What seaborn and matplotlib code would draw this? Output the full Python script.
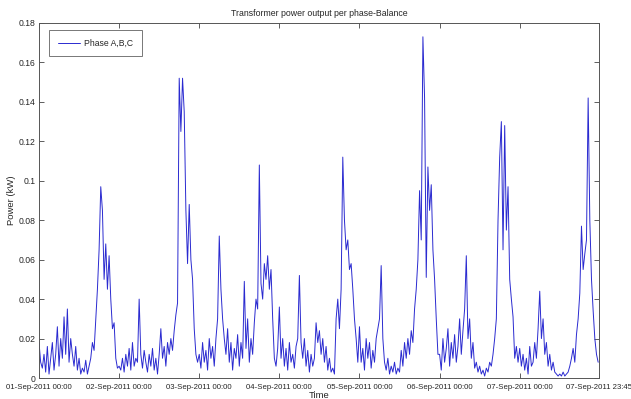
import numpy as np
import pandas as pd
import matplotlib
matplotlib.use("Agg")
import matplotlib.pyplot as plt
import matplotlib.dates as mdates
import seaborn as sns

# 30-minute readings, one list per day (kW)
day1 = [0.018, 0.008, 0.005, 0.012, 0.003, 0.016, 0.002, 0.010, 0.018, 0.004,
        0.012, 0.026, 0.006, 0.020, 0.010, 0.031, 0.012, 0.035, 0.008, 0.020,
        0.012, 0.006, 0.016, 0.004, 0.010, 0.002, 0.005, 0.003, 0.009, 0.002,
        0.006, 0.010, 0.018, 0.014, 0.030, 0.045, 0.065, 0.097, 0.085, 0.050,
        0.068, 0.045, 0.062, 0.040, 0.025, 0.028, 0.010, 0.005]
day2 = [0.006, 0.004, 0.010, 0.003, 0.012, 0.006, 0.015, 0.004, 0.018, 0.006,
        0.010, 0.008, 0.040, 0.012, 0.005, 0.014, 0.008, 0.003, 0.012, 0.006,
        0.015, 0.004, 0.010, 0.002, 0.012, 0.025, 0.010, 0.016, 0.006, 0.018,
        0.012, 0.020, 0.014, 0.024, 0.032, 0.038, 0.152, 0.125, 0.152, 0.135,
        0.085, 0.058, 0.088, 0.060, 0.050, 0.025, 0.012, 0.008]
day3 = [0.012, 0.005, 0.018, 0.008, 0.014, 0.004, 0.020, 0.010, 0.016, 0.006,
        0.020, 0.030, 0.072, 0.045, 0.030, 0.020, 0.012, 0.025, 0.008, 0.018,
        0.004, 0.015, 0.010, 0.022, 0.006, 0.018, 0.010, 0.049, 0.015, 0.030,
        0.008, 0.020, 0.012, 0.028, 0.040, 0.035, 0.108, 0.048, 0.040, 0.058,
        0.050, 0.062, 0.045, 0.055, 0.030, 0.010, 0.006, 0.015]
day4 = [0.036, 0.010, 0.020, 0.006, 0.015, 0.004, 0.018, 0.008, 0.012, 0.005,
        0.016, 0.020, 0.052, 0.018, 0.010, 0.020, 0.006, 0.014, 0.003, 0.012,
        0.006, 0.010, 0.028, 0.018, 0.024, 0.012, 0.020, 0.008, 0.016, 0.004,
        0.010, 0.003, 0.005, 0.002, 0.030, 0.040, 0.025, 0.045, 0.112, 0.080,
        0.065, 0.070, 0.055, 0.058, 0.045, 0.030, 0.020, 0.008]
day5 = [0.026, 0.008, 0.015, 0.004, 0.020, 0.010, 0.018, 0.005, 0.014, 0.008,
        0.020, 0.025, 0.030, 0.057, 0.020, 0.008, 0.004, 0.010, 0.002, 0.006,
        0.003, 0.008, 0.002, 0.005, 0.003, 0.014, 0.006, 0.018, 0.010, 0.020,
        0.012, 0.024, 0.018, 0.035, 0.045, 0.060, 0.095, 0.070, 0.173, 0.142,
        0.051, 0.107, 0.085, 0.098, 0.065, 0.050, 0.030, 0.012]
day6 = [0.012, 0.004, 0.020, 0.008, 0.015, 0.025, 0.006, 0.018, 0.010, 0.022,
        0.008, 0.016, 0.030, 0.012, 0.024, 0.035, 0.062, 0.020, 0.030, 0.010,
        0.018, 0.005, 0.008, 0.003, 0.006, 0.002, 0.004, 0.001, 0.005, 0.003,
        0.008, 0.006, 0.012, 0.020, 0.030, 0.080, 0.112, 0.130, 0.065, 0.128,
        0.075, 0.097, 0.050, 0.040, 0.031, 0.010, 0.016, 0.008]
day7 = [0.015, 0.006, 0.012, 0.004, 0.010, 0.002, 0.016, 0.006, 0.008, 0.018,
        0.010, 0.025, 0.044, 0.020, 0.030, 0.012, 0.018, 0.006, 0.012, 0.004,
        0.008, 0.003, 0.002, 0.001, 0.002, 0.001, 0.003, 0.001, 0.002, 0.003,
        0.006, 0.010, 0.015, 0.008, 0.022, 0.030, 0.043, 0.077, 0.055, 0.063,
        0.070, 0.142, 0.080, 0.050, 0.034, 0.020, 0.012, 0.008]

series_name = "Phase A,B,C"
x_tick_labels = ["01-Sep-2011 00:00", "02-Sep-2011 00:00", "03-Sep-2011 00:00",
                 "04-Sep-2011 00:00", "05-Sep-2011 00:00", "06-Sep-2011 00:00",
                 "07-Sep-2011 00:00", "07-Sep-2011 23:45"]
y_ticks = [0, 0.02, 0.04, 0.06, 0.08, 0.1, 0.12, 0.14, 0.16, 0.18]
y_tick_labels = ["0", "0.02", "0.04", "0.06", "0.08", "0.1", "0.12", "0.14", "0.16", "0.18"]

values = day1 + day2 + day3 + day4 + day5 + day6 + day7
times = pd.date_range("2011-09-01 00:00", periods=len(values), freq="30min")
df = pd.DataFrame({"Time": times, "Power": values})

sns.set_style("white")
plt.rcParams["font.family"] = ["Liberation Sans", "DejaVu Sans"]

fig = plt.figure(figsize=(6.31, 3.99), dpi=100)
ax = fig.add_axes([39 / 631, 21 / 399, 560 / 631, 355 / 399])

sns.lineplot(data=df, x="Time", y="Power", ax=ax, color="#2a2ad0",
             linewidth=0.7, label=series_name)

tick_pos = [pd.Timestamp(s.replace("-Sep-2011", " Sep 2011")) for s in x_tick_labels]
ax.set_xlim(tick_pos[0], tick_pos[-1])
ax.set_xticks(tick_pos)
ax.set_xticklabels(x_tick_labels, fontsize=5.6)
ax.set_ylim(0, 0.18)
ax.set_yticks(y_ticks)
ax.set_yticklabels(y_tick_labels, fontsize=6.2)

ax.tick_params(direction="in", length=3.5, width=0.6, color="#444444",
               top=True, right=True, bottom=True, left=True, pad=2)
ax.tick_params(axis="x", pad=4)
ax.tick_params(axis="y", pad=2.5)
for sp in ax.spines.values():
    sp.set_color("#555555")
    sp.set_linewidth(0.7)

ax.set_title("Transformer power output per phase-Balance", fontsize=6.3, pad=5)
ax.set_xlabel("Time", fontsize=6.8, labelpad=0)
ax.set_ylabel("Power (kW)", fontsize=6.8, labelpad=2)

leg = ax.legend(loc="upper left", bbox_to_anchor=(0.018, 0.98), fontsize=6.2,
                frameon=True, fancybox=False, edgecolor="#555555",
                handlelength=2.6, borderpad=1.0, handletextpad=0.5,
                borderaxespad=0)
leg.get_frame().set_linewidth(0.7)

fig.savefig("out.png", dpi=100, facecolor="white")
